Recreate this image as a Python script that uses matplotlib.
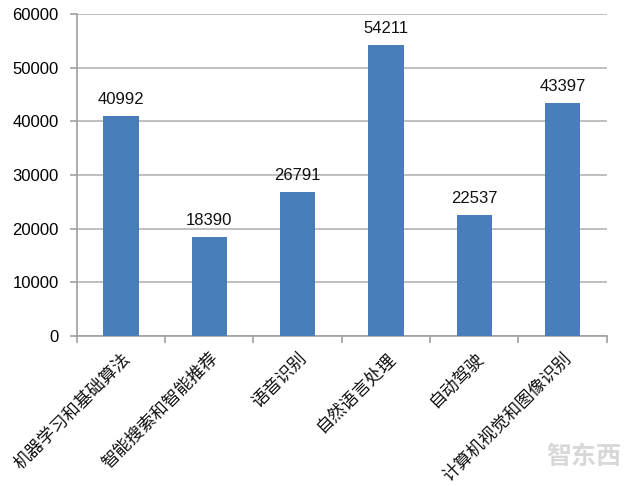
import matplotlib
matplotlib.use('Agg')
import matplotlib.pyplot as plt

categories = ['机器学习和基础算法', '智能搜索和智能推荐', '语音识别', '自然语言处理', '自动驾驶', '计算机视觉和图像识别']
values = [40992, 18390, 26791, 54211, 22537, 43397]
yticks = [0, 10000, 20000, 30000, 40000, 50000, 60000]

plt.rcParams['font.family'] = ['DejaVu Sans']

fig = plt.figure(figsize=(6.4, 4.86), dpi=100)
ax = fig.add_axes([0.120, 0.309, 0.828, 0.662])

x = list(range(len(categories)))
ax.bar(x, values, width=0.4, color='#4a7ebb', zorder=3)

for xi, v in zip(x, values):
    ax.text(xi, v + 1700, str(v), ha='center', va='bottom', fontsize=12,
            family=['Liberation Sans', 'DejaVu Sans'], color='#111111')

ax.set_xlim(-0.5, len(categories) - 0.5)
ax.set_ylim(0, 60000)
ax.set_yticks(yticks)
ax.set_yticklabels([str(t) for t in yticks], fontsize=12, family=['Liberation Sans', 'DejaVu Sans'])
ax.yaxis.grid(True, color='#b4b4b4', linewidth=1.2, zorder=0)

ax.set_xticks([i - 0.5 for i in range(len(categories) + 1)])
ax.set_xticklabels([])
for xi, c in zip(x, categories):
    ax.text(xi, -2500, c, rotation=45, ha='right', va='top', rotation_mode='anchor',
            fontsize=12.5, family=['Noto Sans CJK SC'], color='#111111')

for s in ['top', 'right']:
    ax.spines[s].set_visible(False)
for s in ['left', 'bottom']:
    ax.spines[s].set_color('#a0a0a0')
    ax.spines[s].set_linewidth(1.2)
ax.tick_params(axis='both', color='#a0a0a0', length=5, width=1.2)
ax.tick_params(axis='y', pad=8)

fig.text(0.97, 0.035, '智东西', ha='right', va='bottom', fontsize=18,
         family=['Noto Sans CJK SC'], color='#d8d8d8', fontweight='bold')

fig.savefig('out.png', dpi=100)
